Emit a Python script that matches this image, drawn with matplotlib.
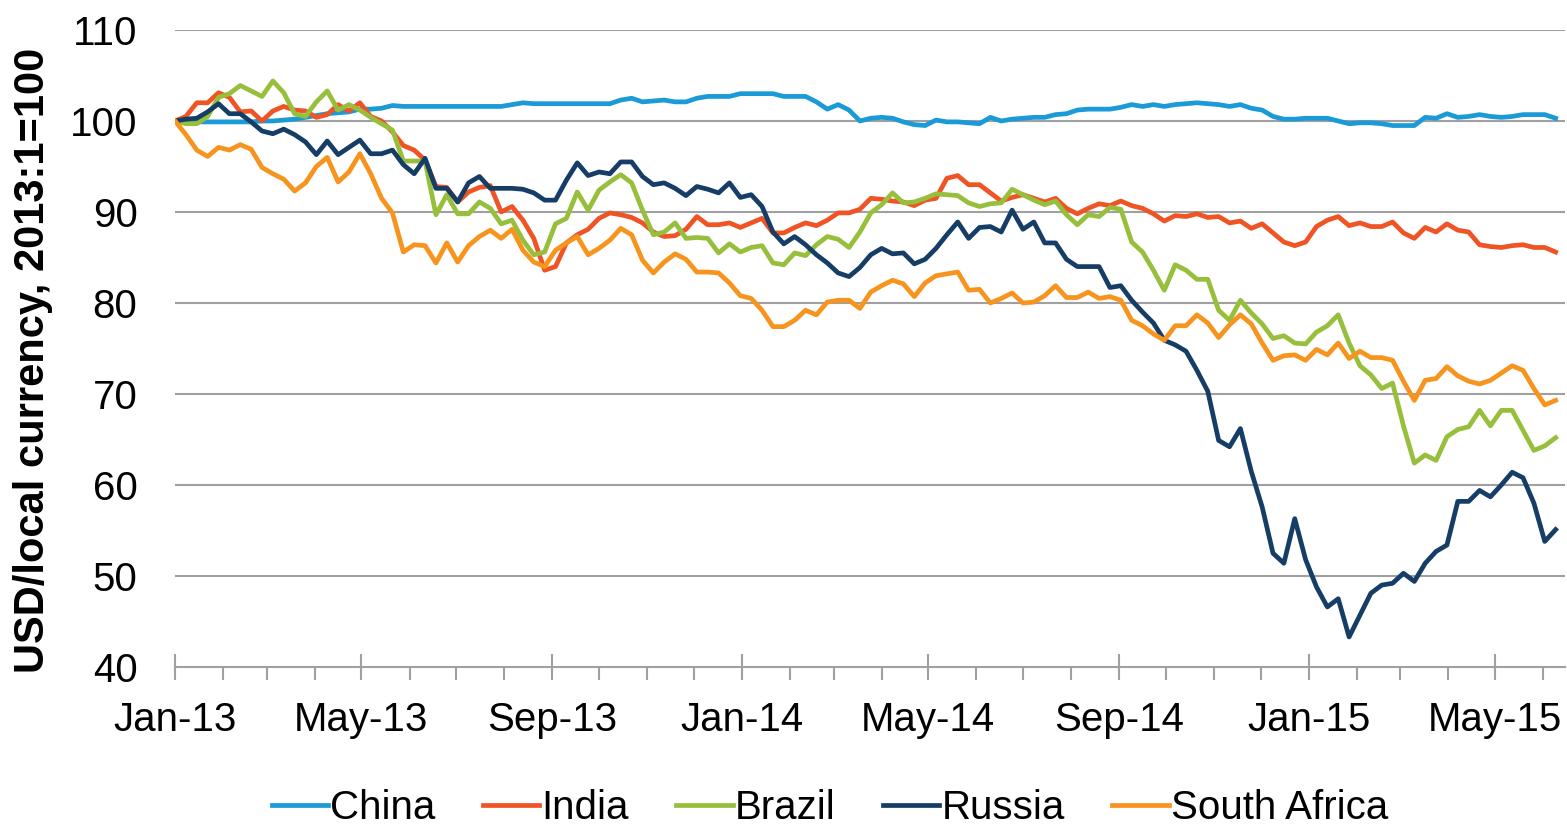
import matplotlib
matplotlib.use("Agg")
import matplotlib.pyplot as plt
import matplotlib.dates as mdates
import pandas as pd

# weekly readings, first week of Jan 2013 = 100
dates = pd.date_range("2013-01-01", periods=128, freq="7D")

china = [100.0, 100.0, 99.9, 99.9, 99.9, 99.9, 99.9, 99.9, 100.0, 100.0,
         100.1, 100.2, 100.4, 100.6, 100.8, 100.9, 101.0, 101.3, 101.3, 101.4,
         101.7, 101.6, 101.6, 101.6, 101.6, 101.6, 101.6, 101.6, 101.6, 101.6,
         101.6, 101.8, 102.0, 101.9, 101.9, 101.9, 101.9, 101.9, 101.9, 101.9,
         101.9, 102.3, 102.5, 102.1, 102.2, 102.3, 102.1, 102.1, 102.5, 102.7,
         102.7, 102.7, 103.0, 103.0, 103.0, 103.0, 102.7, 102.7, 102.7, 102.1,
         101.3, 101.8, 101.2, 100.0, 100.3, 100.4, 100.3, 99.9, 99.6, 99.5,
         100.1, 99.9, 99.9, 99.8, 99.7, 100.4, 100.0, 100.2, 100.3, 100.4,
         100.4, 100.7, 100.8, 101.2, 101.3, 101.3, 101.3, 101.5, 101.8, 101.6,
         101.8, 101.6, 101.8, 101.9, 102.0, 101.9, 101.8, 101.6, 101.8, 101.4,
         101.2, 100.5, 100.2, 100.2, 100.3, 100.3, 100.3, 100.0, 99.7, 99.8,
         99.8, 99.7, 99.5, 99.5, 99.5, 100.4, 100.3, 100.8, 100.4, 100.5,
         100.7, 100.5, 100.4, 100.5, 100.7, 100.7, 100.7, 100.3]

india = [100.0, 100.5, 102.0, 102.0, 103.1, 102.6, 101.0, 101.1, 100.0, 101.1,
         101.6, 101.2, 101.1, 100.4, 100.7, 101.8, 101.1, 102.0, 100.5, 100.0,
         98.8, 97.3, 96.8, 95.7, 92.8, 92.7, 91.1, 92.2, 92.7, 92.9,
         90.0, 90.6, 89.1, 87.1, 83.6, 84.0, 86.6, 87.5, 88.1, 89.3,
         89.9, 89.7, 89.4, 88.8, 87.8, 87.3, 87.4, 88.1, 89.5, 88.6,
         88.6, 88.8, 88.3, 88.8, 89.3, 87.7, 87.7, 88.3, 88.8, 88.5,
         89.1, 89.9, 89.9, 90.3, 91.5, 91.4, 91.2, 91.1, 90.7, 91.3,
         91.5, 93.7, 94.0, 93.0, 93.0, 92.1, 91.2, 91.6, 91.9, 91.5,
         91.1, 91.5, 90.4, 89.8, 90.4, 90.9, 90.7, 91.2, 90.7, 90.4,
         89.8, 89.0, 89.6, 89.5, 89.8, 89.4, 89.5, 88.8, 89.0, 88.2,
         88.7, 87.7, 86.7, 86.3, 86.7, 88.4, 89.1, 89.5, 88.5, 88.8,
         88.4, 88.4, 88.9, 87.7, 87.1, 88.3, 87.8, 88.7, 88.0, 87.8,
         86.4, 86.2, 86.1, 86.3, 86.4, 86.1, 86.1, 85.6]

brazil = [100.0, 99.7, 99.7, 100.5, 102.6, 103.0, 103.9, 103.3, 102.7, 104.4,
          103.1, 100.8, 100.5, 102.1, 103.3, 101.2, 101.8, 101.2, 100.4, 99.7,
          99.0, 95.6, 95.6, 95.6, 89.7, 91.9, 89.8, 89.8, 91.1, 90.4,
          88.7, 89.1, 86.9, 85.3, 85.6, 88.7, 89.3, 92.2, 90.2, 92.4,
          93.3, 94.1, 93.2, 90.2, 87.5, 87.8, 88.8, 87.1, 87.2, 87.1,
          85.5, 86.5, 85.6, 86.1, 86.3, 84.4, 84.2, 85.5, 85.2, 86.4,
          87.3, 87.0, 86.1, 87.8, 89.9, 90.8, 92.1, 91.0, 91.1, 91.5,
          92.0, 91.9, 91.8, 91.0, 90.6, 90.9, 91.0, 92.5, 91.9, 91.3,
          90.8, 91.2, 89.7, 88.6, 89.7, 89.5, 90.5, 90.3, 86.7, 85.6,
          83.6, 81.4, 84.2, 83.6, 82.6, 82.6, 79.2, 78.1, 80.3, 78.9,
          77.7, 76.1, 76.4, 75.6, 75.5, 76.8, 77.5, 78.7, 75.6, 73.1,
          72.1, 70.6, 71.2, 66.5, 62.4, 63.3, 62.7, 65.3, 66.1, 66.4,
          68.2, 66.5, 68.2, 68.2, 66.0, 63.8, 64.3, 65.2]

russia = [100.0, 100.2, 100.3, 101.0, 101.9, 100.8, 100.8, 99.9, 98.9, 98.6,
          99.1, 98.5, 97.7, 96.3, 97.8, 96.3, 97.1, 97.9, 96.4, 96.4,
          96.8, 95.2, 94.2, 95.9, 92.6, 92.6, 91.1, 93.2, 93.9, 92.6,
          92.6, 92.6, 92.5, 92.1, 91.3, 91.3, 93.5, 95.4, 94.0, 94.4,
          94.2, 95.5, 95.5, 93.9, 93.0, 93.2, 92.6, 91.8, 92.8, 92.5,
          92.1, 93.2, 91.6, 91.9, 90.6, 87.8, 86.5, 87.3, 86.4, 85.3,
          84.4, 83.3, 82.9, 83.9, 85.3, 86.0, 85.4, 85.5, 84.3, 84.8,
          86.0, 87.5, 88.9, 87.1, 88.3, 88.4, 87.8, 90.2, 88.1, 88.9,
          86.6, 86.6, 84.8, 84.0, 84.0, 84.0, 81.7, 81.9, 80.3, 79.0,
          77.8, 75.9, 75.4, 74.7, 72.6, 70.3, 64.9, 64.2, 66.2, 61.5,
          57.6, 52.5, 51.4, 56.3, 51.8, 48.8, 46.6, 47.5, 43.3, 45.7,
          48.1, 49.0, 49.2, 50.3, 49.4, 51.4, 52.7, 53.4, 58.2, 58.2,
          59.4, 58.7, 60.0, 61.4, 60.8, 58.0, 53.8, 55.1]

south_africa = [100.0, 98.5, 96.8, 96.1, 97.1, 96.8, 97.4, 96.9, 94.9, 94.2,
                93.6, 92.3, 93.2, 95.0, 96.0, 93.3, 94.4, 96.4, 94.2, 91.5,
                89.9, 85.6, 86.4, 86.3, 84.4, 86.6, 84.5, 86.3, 87.3, 88.0,
                87.1, 88.1, 85.8, 84.5, 84.0, 85.8, 86.6, 87.3, 85.3, 86.0,
                86.9, 88.2, 87.5, 84.7, 83.3, 84.5, 85.4, 84.8, 83.4, 83.4,
                83.3, 82.2, 80.8, 80.5, 79.2, 77.4, 77.4, 78.1, 79.2, 78.7,
                80.1, 80.3, 80.3, 79.4, 81.2, 81.9, 82.5, 82.1, 80.7, 82.2,
                83.0, 83.2, 83.4, 81.4, 81.5, 80.0, 80.5, 81.1, 80.0, 80.1,
                80.8, 81.9, 80.6, 80.6, 81.2, 80.5, 80.7, 80.3, 78.1, 77.5,
                76.6, 75.9, 77.5, 77.5, 78.7, 77.8, 76.2, 77.6, 78.7, 77.7,
                75.6, 73.7, 74.2, 74.3, 73.7, 74.9, 74.3, 75.6, 73.9, 74.7,
                74.0, 74.0, 73.7, 71.4, 69.3, 71.5, 71.7, 73.0, 72.0, 71.4,
                71.1, 71.5, 72.3, 73.1, 72.6, 70.6, 68.8, 69.3]

series = [("China", china, "#1A9AD6"),
          ("India", india, "#EF5425"),
          ("Brazil", brazil, "#97BF3B"),
          ("Russia", russia, "#163D66"),
          ("South Africa", south_africa, "#F7941E")]

plt.rcParams['font.family'] = ['Liberation Sans', 'DejaVu Sans']

fig = plt.figure(figsize=(15.67, 8.26), dpi=100)
ax = fig.add_axes([0.1117, 0.1925, 0.887, 0.7712])

for name, vals, col in series:
    ax.plot(dates, vals, color=col, lw=3.4, label=name)

ax.set_ylim(40, 110)
ax.set_yticks(range(40, 111, 10))
ax.set_xlim(pd.Timestamp("2013-01-01"), pd.Timestamp("2015-06-15"))

# horizontal gridlines, none at the axis line itself
for v in range(50, 111, 10):
    ax.axhline(v, color="#A0A0A0", lw=1.5, zorder=0)

for s in ["top", "right", "left"]:
    ax.spines[s].set_visible(False)
ax.spines["bottom"].set_color("#A0A0A0")
ax.spines["bottom"].set_linewidth(1.5)

ax.xaxis.set_major_locator(mdates.MonthLocator(bymonth=[1, 5, 9]))
ax.xaxis.set_minor_locator(mdates.MonthLocator())
ax.xaxis.set_major_formatter(mdates.DateFormatter("%b-%y"))
ax.tick_params(axis="x", which="major", direction="inout", length=19, width=1.5,
               color="#A0A0A0", labelsize=29, pad=15)
ax.tick_params(axis="x", which="minor", direction="out", length=9.5, width=1.5,
               color="#A0A0A0")
ax.tick_params(axis="y", length=0, labelsize=29, pad=27)

ax.set_ylabel("USD/local currency, 2013:1=100", fontsize=30, fontweight="bold")
ax.yaxis.set_label_coords(-0.088, 0.482)

ax.legend(loc="center", bbox_to_anchor=(0.471, -0.222), ncol=5, frameon=False,
          fontsize=29, handlelength=1.4, handletextpad=0.05, columnspacing=1.18)

fig.savefig("out.png", dpi=100)
